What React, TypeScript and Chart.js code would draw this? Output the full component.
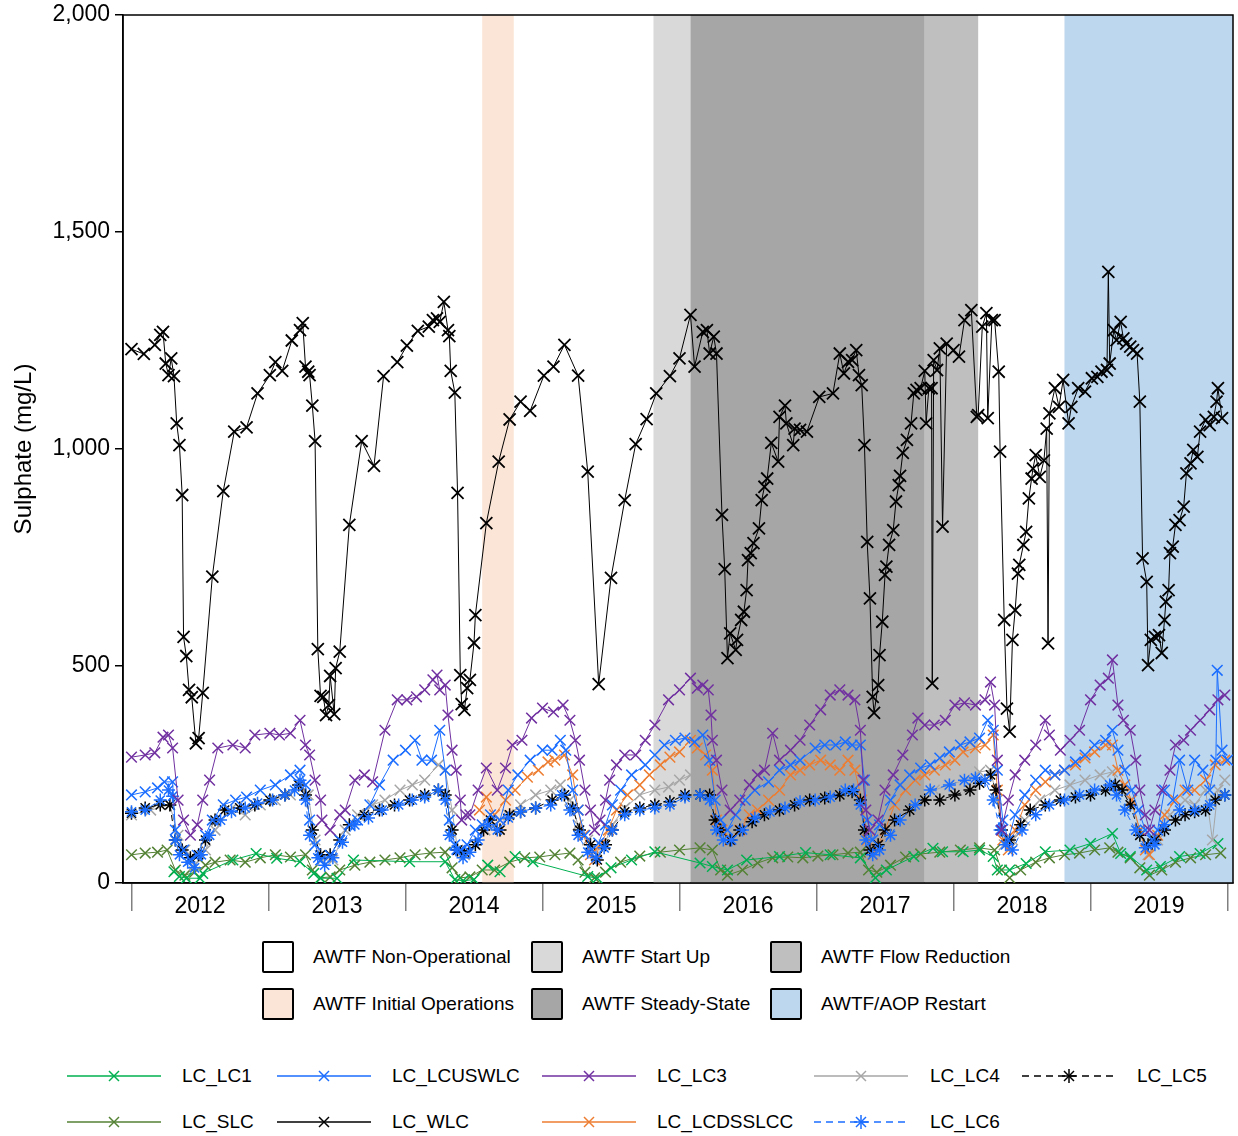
import React, { useEffect, useRef } from "react";
import { Chart, registerables } from "chart.js";

Chart.register(...registerables);

const FONT = '"Liberation Sans", Arial, Helvetica, sans-serif';

// ---------- axis settings ----------
const yTickValues = [0, 500, 1000, 1500, 2000];
const yearLabels = [2012, 2013, 2014, 2015, 2016, 2017, 2018, 2019];
const xMin = 2011.938;
const xMax = 2020.04;

// ---------- operating phases (decimal years) ----------
const phaseNames = ["AWTF Initial Operations", "AWTF Start Up", "AWTF Steady-State", "AWTF Flow Reduction", "AWTF/AOP Restart"];
const phaseStart = [2014.56, 2015.81, 2016.08, 2017.79, 2018.81];
const phaseEnd = [2014.79, 2016.08, 2017.79, 2018.18, 2020.04];
const phaseColors = ["#fbe5d6", "#d9d9d9", "#a6a6a6", "#bfbfbf", "#bdd7ee"];

// ---------- series data: [decimal year, sulphate mg/L] ----------
const wlcData: number[][] = [
  [2012.00, 1230], [2012.09, 1219], [2012.17, 1240], [2012.21, 1263], [2012.23, 1270], [2012.25, 1197], [2012.27, 1170], [2012.29, 1209], [2012.31, 1168], [2012.33, 1059], [2012.35, 1009], [2012.37, 894], [2012.38, 567], [2012.40, 523], [2012.42, 445], [2012.44, 428], [2012.47, 322], [2012.49, 334], [2012.52, 438], [2012.59, 706], [2012.67, 903], [2012.75, 1040], [2012.84, 1050], [2012.92, 1128],
  [2013.01, 1170], [2013.05, 1200], [2013.10, 1180], [2013.17, 1250], [2013.23, 1274], [2013.25, 1290], [2013.27, 1190], [2013.29, 1178], [2013.30, 1170], [2013.32, 1100], [2013.34, 1018], [2013.36, 539], [2013.38, 431], [2013.40, 429], [2013.42, 387], [2013.44, 410], [2013.45, 477], [2013.48, 389], [2013.49, 495], [2013.52, 533], [2013.59, 825], [2013.68, 1018], [2013.77, 961], [2013.84, 1168], [2013.94, 1200],
  [2014.01, 1238], [2014.09, 1272], [2014.17, 1282], [2014.20, 1297], [2014.23, 1301], [2014.25, 1293], [2014.28, 1339], [2014.31, 1274], [2014.32, 1260], [2014.33, 1180], [2014.36, 1130], [2014.38, 899], [2014.40, 479], [2014.41, 412], [2014.43, 399], [2014.45, 449], [2014.47, 468], [2014.50, 553], [2014.51, 617], [2014.59, 829], [2014.68, 971], [2014.76, 1068], [2014.84, 1109], [2014.91, 1088],
  [2015.01, 1169], [2015.08, 1190], [2015.16, 1240], [2015.26, 1169], [2015.33, 948], [2015.41, 458], [2015.50, 703], [2015.60, 882], [2015.68, 1011], [2015.76, 1069], [2015.83, 1128], [2015.93, 1168],
  [2016.00, 1209], [2016.08, 1309], [2016.11, 1190], [2016.17, 1270], [2016.20, 1274], [2016.22, 1220], [2016.25, 1259], [2016.27, 1220], [2016.31, 848], [2016.33, 723], [2016.35, 518], [2016.37, 575], [2016.41, 537], [2016.42, 560], [2016.45, 606], [2016.47, 625], [2016.49, 675], [2016.50, 744], [2016.52, 760], [2016.54, 783], [2016.58, 817], [2016.60, 882], [2016.62, 913], [2016.64, 932], [2016.67, 1014], [2016.72, 971], [2016.73, 1074], [2016.77, 1100], [2016.78, 1059], [2016.83, 1009], [2016.84, 1047], [2016.88, 1044], [2016.93, 1040],
  [2017.02, 1120], [2017.12, 1128], [2017.17, 1220], [2017.20, 1174], [2017.23, 1201], [2017.26, 1205], [2017.29, 1228], [2017.31, 1170], [2017.33, 1147], [2017.35, 1009], [2017.37, 786], [2017.39, 656], [2017.41, 429], [2017.42, 392], [2017.45, 456], [2017.46, 525], [2017.48, 602], [2017.50, 710], [2017.51, 729], [2017.53, 779], [2017.56, 813], [2017.58, 879], [2017.60, 917], [2017.61, 938], [2017.63, 991], [2017.66, 1021], [2017.69, 1059], [2017.71, 1128], [2017.73, 1136], [2017.76, 1140], [2017.79, 1180], [2017.80, 1059], [2017.82, 1140], [2017.84, 1140], [2017.845, 460], [2017.855, 1205], [2017.88, 1182], [2017.90, 1232], [2017.92, 821], [2017.95, 1243],
  [2018.00, 1228], [2018.04, 1213], [2018.08, 1297], [2018.13, 1320], [2018.17, 1074], [2018.18, 1078], [2018.21, 1282], [2018.24, 1313], [2018.25, 1071], [2018.28, 1297], [2018.30, 1297], [2018.33, 1178], [2018.34, 994], [2018.37, 606], [2018.39, 402], [2018.41, 349], [2018.43, 560], [2018.45, 629], [2018.47, 713], [2018.48, 733], [2018.51, 779], [2018.53, 809], [2018.55, 886], [2018.57, 932], [2018.58, 955], [2018.60, 986], [2018.63, 936], [2018.66, 974], [2018.68, 1047], [2018.69, 552], [2018.70, 1082], [2018.74, 1140], [2018.77, 1097], [2018.80, 1159], [2018.84, 1059], [2018.86, 1097], [2018.91, 1140], [2018.96, 1132],
  [2019.01, 1163], [2019.05, 1166], [2019.08, 1178], [2019.12, 1182], [2019.13, 1408], [2019.14, 1197], [2019.17, 1274], [2019.19, 1251], [2019.22, 1293], [2019.24, 1255], [2019.26, 1243], [2019.29, 1236], [2019.31, 1228], [2019.34, 1220], [2019.36, 1109], [2019.38, 748], [2019.41, 694], [2019.42, 502], [2019.44, 560], [2019.47, 567], [2019.50, 571], [2019.52, 530], [2019.54, 606], [2019.55, 648], [2019.57, 675], [2019.58, 760], [2019.60, 775], [2019.62, 825], [2019.65, 836], [2019.68, 867], [2019.70, 944], [2019.73, 967], [2019.75, 998], [2019.78, 982], [2019.80, 1040], [2019.84, 1067], [2019.87, 1055], [2019.90, 1074], [2019.92, 1109], [2019.93, 1140], [2019.96, 1071],
];

const lc3Data: number[][] = [
  [2012.00, 290], [2012.10, 295], [2012.17, 300], [2012.23, 336], [2012.27, 341], [2012.30, 311], [2012.34, 191], [2012.38, 145], [2012.43, 110], [2012.48, 134], [2012.52, 191], [2012.57, 237], [2012.63, 311], [2012.74, 318], [2012.83, 311], [2012.90, 341],
  [2013.01, 345], [2013.08, 341], [2013.16, 345], [2013.23, 375], [2013.27, 318], [2013.30, 295], [2013.34, 237], [2013.38, 191], [2013.39, 145], [2013.45, 122], [2013.52, 157], [2013.56, 168], [2013.63, 237], [2013.70, 249], [2013.76, 233], [2013.85, 352], [2013.94, 422],
  [2014.01, 422], [2014.08, 429], [2014.14, 445], [2014.20, 468], [2014.23, 479], [2014.25, 445], [2014.29, 456], [2014.31, 387], [2014.34, 306], [2014.37, 260], [2014.40, 191], [2014.41, 145], [2014.44, 157], [2014.47, 157], [2014.53, 214], [2014.59, 265], [2014.67, 214], [2014.73, 265], [2014.78, 318], [2014.85, 329], [2014.92, 380],
  [2015.00, 403], [2015.08, 394], [2015.15, 410], [2015.20, 375], [2015.24, 329], [2015.27, 283], [2015.31, 214], [2015.35, 168], [2015.38, 122], [2015.42, 145], [2015.46, 191], [2015.49, 237], [2015.54, 272], [2015.60, 295], [2015.68, 295], [2015.75, 329], [2015.82, 364], [2015.92, 422],
  [2016.00, 445], [2016.08, 472], [2016.13, 449], [2016.17, 456], [2016.21, 445], [2016.23, 387], [2016.24, 329], [2016.27, 283], [2016.31, 214], [2016.37, 168], [2016.44, 191], [2016.51, 226], [2016.57, 249], [2016.62, 260], [2016.68, 345], [2016.73, 283], [2016.81, 306], [2016.88, 329], [2016.95, 364],
  [2017.03, 399], [2017.10, 433], [2017.17, 445], [2017.23, 433], [2017.28, 422], [2017.32, 352], [2017.34, 237], [2017.36, 168], [2017.39, 122], [2017.45, 145], [2017.50, 214], [2017.56, 249], [2017.63, 295], [2017.70, 341], [2017.74, 380], [2017.79, 364], [2017.86, 364], [2017.94, 375],
  [2018.01, 410], [2018.08, 415], [2018.16, 410], [2018.23, 422], [2018.27, 463], [2018.30, 410], [2018.32, 283], [2018.35, 122], [2018.40, 191], [2018.45, 249], [2018.52, 283], [2018.60, 318], [2018.67, 375], [2018.70, 341], [2018.78, 306], [2018.85, 329], [2018.92, 352],
  [2019.00, 422], [2019.07, 456], [2019.13, 472], [2019.16, 514], [2019.20, 410], [2019.24, 375], [2019.29, 352], [2019.33, 283], [2019.36, 214], [2019.40, 157], [2019.43, 122], [2019.47, 168], [2019.52, 214], [2019.58, 260], [2019.62, 318], [2019.68, 329], [2019.73, 352], [2019.80, 375], [2019.87, 399], [2019.93, 422], [2019.98, 433],
];

const lcuswlcData: number[][] = [
  [2012.00, 203], [2012.10, 210], [2012.19, 219], [2012.24, 233], [2012.30, 233], [2012.32, 122], [2012.38, 76], [2012.43, 53], [2012.48, 64], [2012.54, 110], [2012.59, 145], [2012.67, 180], [2012.76, 191], [2012.84, 198], [2012.94, 214],
  [2013.05, 226], [2013.16, 249], [2013.23, 260], [2013.27, 226], [2013.30, 145], [2013.34, 88], [2013.38, 53], [2013.45, 64], [2013.52, 99], [2013.59, 134], [2013.65, 145], [2013.74, 180], [2013.81, 226], [2013.91, 283],
  [2014.00, 306], [2014.07, 329], [2014.12, 283], [2014.19, 283], [2014.25, 352], [2014.29, 260], [2014.32, 145], [2014.36, 88], [2014.40, 76], [2014.45, 88], [2014.51, 122], [2014.56, 134], [2014.62, 157], [2014.69, 145], [2014.75, 214], [2014.82, 249], [2014.91, 283],
  [2015.00, 306], [2015.07, 306], [2015.13, 329], [2015.17, 306], [2015.22, 214], [2015.26, 168], [2015.31, 110], [2015.36, 76], [2015.41, 92], [2015.46, 134], [2015.51, 180], [2015.57, 214], [2015.65, 249], [2015.75, 272], [2015.82, 295], [2015.89, 318], [2015.97, 329],
  [2016.04, 334], [2016.11, 325], [2016.17, 341], [2016.22, 283], [2016.26, 191], [2016.30, 145], [2016.35, 122], [2016.41, 157], [2016.48, 191], [2016.55, 214], [2016.65, 233], [2016.73, 260], [2016.81, 272], [2016.88, 283], [2016.99, 311],
  [2017.06, 318], [2017.14, 318], [2017.21, 325], [2017.26, 318], [2017.32, 318], [2017.35, 237], [2017.37, 145], [2017.41, 99], [2017.46, 134], [2017.54, 191], [2017.61, 226], [2017.68, 249], [2017.76, 265], [2017.83, 272], [2017.90, 288], [2017.97, 302],
  [2018.05, 318], [2018.12, 325], [2018.19, 334], [2018.25, 375], [2018.29, 352], [2018.32, 260], [2018.36, 145], [2018.40, 99], [2018.45, 157], [2018.52, 203], [2018.60, 237], [2018.67, 260], [2018.74, 249], [2018.81, 260], [2018.89, 279], [2018.96, 295],
  [2019.03, 318], [2019.11, 329], [2019.16, 352], [2019.20, 306], [2019.25, 260], [2019.30, 214], [2019.35, 168], [2019.40, 122], [2019.45, 99], [2019.49, 122], [2019.54, 214], [2019.60, 191], [2019.65, 283], [2019.71, 214], [2019.76, 283], [2019.82, 260], [2019.87, 214], [2019.915, 283], [2019.925, 490], [2019.96, 306], [2020.00, 283],
];

const lcdsslccData: number[][] = [
  [2014.54, 168], [2014.59, 198], [2014.65, 157], [2014.73, 191], [2014.80, 214], [2014.89, 244], [2014.97, 260],
  [2015.04, 279], [2015.09, 283], [2015.16, 295], [2015.22, 249], [2015.26, 168], [2015.30, 110], [2015.35, 65], [2015.38, 53], [2015.42, 88], [2015.48, 122], [2015.54, 168], [2015.62, 203], [2015.71, 226], [2015.78, 249], [2015.86, 272], [2015.93, 290],
  [2016.00, 302], [2016.08, 329], [2016.13, 311], [2016.19, 295], [2016.24, 260], [2016.27, 145], [2016.31, 122], [2016.37, 99], [2016.44, 122], [2016.51, 157], [2016.57, 168], [2016.65, 191], [2016.73, 214], [2016.81, 249], [2016.88, 260], [2016.95, 272],
  [2017.03, 283], [2017.10, 272], [2017.17, 260], [2017.23, 283], [2017.28, 260], [2017.33, 191], [2017.37, 99], [2017.41, 65], [2017.45, 88], [2017.50, 122], [2017.57, 180], [2017.65, 214], [2017.72, 237], [2017.79, 249], [2017.86, 260], [2017.94, 272],
  [2018.01, 283], [2018.07, 302], [2018.16, 311], [2018.23, 318], [2018.29, 341], [2018.32, 214], [2018.36, 99], [2018.40, 76], [2018.45, 122], [2018.52, 180], [2018.60, 214], [2018.67, 233], [2018.74, 249], [2018.81, 260], [2018.89, 272], [2018.96, 288],
  [2019.03, 302], [2019.11, 318], [2019.16, 318], [2019.20, 260], [2019.25, 226], [2019.30, 191], [2019.36, 122], [2019.40, 76], [2019.43, 65], [2019.49, 110], [2019.54, 157], [2019.62, 191], [2019.69, 214], [2019.76, 214], [2019.84, 237], [2019.91, 272], [2019.98, 283],
];

const lc4Data: number[][] = [
  [2012.00, 157], [2012.14, 168], [2012.28, 180], [2012.34, 110], [2012.39, 76], [2012.46, 41], [2012.54, 76], [2012.61, 122], [2012.72, 168], [2012.83, 157], [2012.94, 180],
  [2013.05, 191], [2013.16, 203], [2013.23, 226], [2013.29, 203], [2013.34, 99], [2013.39, 53], [2013.47, 53], [2013.56, 122], [2013.65, 157], [2013.76, 180], [2013.85, 191], [2013.96, 214],
  [2014.05, 226], [2014.14, 237], [2014.24, 272], [2014.29, 260], [2014.34, 168], [2014.38, 76], [2014.43, 65], [2014.51, 88], [2014.58, 122], [2014.65, 134], [2014.75, 157], [2014.84, 180], [2014.95, 203],
  [2015.06, 214], [2015.13, 226], [2015.20, 191], [2015.26, 134], [2015.33, 99], [2015.39, 76], [2015.45, 88], [2015.51, 134], [2015.60, 173], [2015.71, 203], [2015.82, 214], [2015.92, 221],
  [2016.00, 237], [2016.08, 249], [2016.15, 237], [2016.21, 214], [2016.25, 122], [2016.31, 88], [2016.41, 110], [2016.51, 145], [2016.62, 173], [2016.73, 191], [2016.84, 203], [2016.95, 214],
  [2017.10, 219], [2017.25, 226], [2017.32, 214], [2017.35, 122], [2017.39, 65], [2017.46, 88], [2017.55, 134], [2017.65, 168], [2017.74, 191], [2017.86, 214], [2017.97, 226],
  [2018.08, 237], [2018.19, 256], [2018.27, 260], [2018.32, 191], [2018.37, 88], [2018.43, 99], [2018.52, 145], [2018.63, 191], [2018.74, 214], [2018.85, 226], [2018.96, 237],
  [2019.07, 249], [2019.16, 256], [2019.22, 214], [2019.29, 191], [2019.36, 122], [2019.42, 65], [2019.49, 99], [2019.58, 157], [2019.69, 191], [2019.76, 180], [2019.84, 214], [2019.89, 99], [2019.93, 214], [2019.98, 237],
];

const lc5Data: number[][] = [
  [2012.00, 161], [2012.10, 173], [2012.21, 180], [2012.28, 180], [2012.32, 99], [2012.37, 76], [2012.43, 58], [2012.49, 65], [2012.54, 99], [2012.61, 145], [2012.68, 168], [2012.79, 173], [2012.90, 180],
  [2013.01, 191], [2013.12, 203], [2013.22, 226], [2013.27, 203], [2013.32, 122], [2013.38, 65], [2013.45, 65], [2013.52, 99], [2013.59, 134], [2013.70, 157], [2013.81, 168], [2013.92, 180],
  [2014.03, 191], [2014.14, 203], [2014.24, 214], [2014.29, 203], [2014.34, 122], [2014.38, 76], [2014.43, 71], [2014.51, 88], [2014.57, 122], [2014.62, 145], [2014.69, 122], [2014.76, 157], [2014.84, 164], [2014.95, 173],
  [2015.07, 191], [2015.16, 203], [2015.22, 173], [2015.27, 122], [2015.35, 88], [2015.40, 53], [2015.46, 88], [2015.51, 122], [2015.60, 164], [2015.71, 173], [2015.82, 180], [2015.93, 187],
  [2016.04, 203], [2016.15, 203], [2016.22, 203], [2016.26, 145], [2016.30, 122], [2016.37, 99], [2016.44, 122], [2016.53, 141], [2016.62, 157], [2016.73, 168], [2016.84, 180], [2016.95, 191],
  [2017.06, 196], [2017.17, 203], [2017.26, 210], [2017.32, 191], [2017.35, 122], [2017.39, 76], [2017.45, 88], [2017.50, 122], [2017.57, 145], [2017.68, 168], [2017.79, 191], [2017.90, 191],
  [2018.01, 203], [2018.12, 214], [2018.19, 230], [2018.27, 249], [2018.31, 214], [2018.35, 122], [2018.41, 99], [2018.49, 134], [2018.56, 168], [2018.67, 180], [2018.78, 191], [2018.89, 198],
  [2019.00, 203], [2019.11, 214], [2019.18, 226], [2019.23, 214], [2019.29, 180], [2019.36, 110], [2019.42, 88], [2019.47, 99], [2019.54, 122], [2019.62, 145], [2019.69, 157], [2019.76, 164], [2019.84, 168], [2019.91, 191], [2019.98, 203],
];

const lc6Data: number[][] = [
  [2012.00, 164], [2012.10, 168], [2012.21, 191], [2012.27, 214], [2012.30, 200], [2012.32, 99], [2012.35, 65], [2012.41, 48], [2012.46, 35], [2012.51, 65], [2012.57, 110], [2012.65, 145], [2012.73, 164], [2012.83, 173], [2012.92, 184],
  [2013.03, 191], [2013.12, 203], [2013.19, 214], [2013.23, 237], [2013.27, 191], [2013.30, 110], [2013.36, 58], [2013.41, 41], [2013.47, 58], [2013.54, 94], [2013.63, 134], [2013.73, 150], [2013.83, 168], [2013.95, 180],
  [2014.05, 191], [2014.14, 198], [2014.24, 214], [2014.29, 191], [2014.32, 110], [2014.37, 76], [2014.42, 58], [2014.47, 71], [2014.53, 99], [2014.60, 134], [2014.67, 122], [2014.75, 150], [2014.84, 164], [2014.95, 173],
  [2015.06, 180], [2015.14, 203], [2015.20, 168], [2015.26, 110], [2015.33, 71], [2015.39, 58], [2015.45, 81], [2015.51, 122], [2015.60, 157], [2015.71, 168], [2015.82, 173], [2015.93, 180],
  [2016.04, 198], [2016.15, 203], [2016.22, 191], [2016.27, 122], [2016.32, 99], [2016.38, 99], [2016.46, 122], [2016.55, 150], [2016.66, 164], [2016.77, 173], [2016.88, 187], [2016.99, 191],
  [2017.10, 198], [2017.21, 214], [2017.27, 214], [2017.32, 180], [2017.36, 99], [2017.41, 65], [2017.46, 76], [2017.54, 110], [2017.61, 145], [2017.72, 180], [2017.83, 214], [2017.97, 226],
  [2018.08, 237], [2018.16, 242], [2018.23, 237], [2018.29, 191], [2018.34, 122], [2018.38, 88], [2018.43, 76], [2018.50, 122], [2018.60, 157], [2018.70, 180], [2018.81, 191], [2018.92, 203],
  [2019.03, 214], [2019.14, 226], [2019.19, 203], [2019.25, 168], [2019.33, 122], [2019.40, 81], [2019.47, 88], [2019.54, 134], [2019.65, 168], [2019.76, 168], [2019.87, 180], [2019.98, 203],
];

const slcData: number[][] = [
  [2012.00, 65], [2012.10, 69], [2012.19, 71], [2012.26, 76], [2012.32, 30], [2012.39, 18], [2012.46, 25], [2012.54, 41], [2012.61, 48], [2012.72, 53], [2012.83, 48], [2012.94, 58],
  [2013.05, 65], [2013.16, 60], [2013.27, 65], [2013.32, 30], [2013.38, 12], [2013.45, 14], [2013.52, 30], [2013.63, 41], [2013.74, 48], [2013.85, 53], [2013.96, 58],
  [2014.07, 65], [2014.18, 69], [2014.29, 71], [2014.34, 35], [2014.40, 12], [2014.47, 14], [2014.56, 30], [2014.65, 30], [2014.76, 48], [2014.87, 58], [2014.98, 60],
  [2015.09, 65], [2015.20, 69], [2015.26, 53], [2015.31, 25], [2015.38, 12], [2015.46, 25], [2015.57, 48], [2015.71, 62], [2015.86, 71],
  [2016.00, 76], [2016.15, 81], [2016.24, 76], [2016.30, 30], [2016.35, 18], [2016.46, 30], [2016.57, 46], [2016.68, 58], [2016.79, 60], [2016.90, 58],
  [2017.01, 62], [2017.12, 65], [2017.23, 69], [2017.32, 71], [2017.38, 30], [2017.44, 25], [2017.54, 41], [2017.65, 60], [2017.76, 67], [2017.90, 71],
  [2018.05, 76], [2018.19, 81], [2018.30, 76], [2018.35, 30], [2018.41, 12], [2018.49, 30], [2018.60, 48], [2018.70, 58], [2018.81, 65], [2018.92, 69],
  [2019.03, 76], [2019.14, 81], [2019.20, 71], [2019.29, 58], [2019.36, 35], [2019.43, 18], [2019.52, 30], [2019.62, 48], [2019.73, 58], [2019.84, 65], [2019.95, 69],
];

const lc1Data: number[][] = [
  [2012.31, 26], [2012.35, 15], [2012.40, 11], [2012.50, 11], [2012.52, 22], [2012.74, 53], [2012.91, 68],
  [2013.06, 57], [2013.23, 49], [2013.33, 22], [2013.38, 11], [2013.50, 11], [2013.62, 53],
  [2014.03, 49], [2014.29, 49], [2014.36, 8], [2014.42, 5], [2014.50, 8], [2014.60, 41], [2014.69, 26], [2014.80, 61], [2014.93, 49],
  [2015.33, 15], [2015.40, 11], [2015.50, 35], [2015.65, 53], [2015.82, 72],
  [2016.15, 46], [2016.24, 38], [2016.35, 30], [2016.49, 53], [2016.73, 61], [2016.92, 70],
  [2017.10, 65], [2017.32, 58], [2017.43, 12], [2017.51, 30], [2017.71, 61], [2017.85, 80], [2017.92, 72],
  [2018.07, 72], [2018.19, 76], [2018.29, 61], [2018.32, 30], [2018.41, 30], [2018.53, 45], [2018.67, 72], [2018.85, 76],
  [2019.00, 91], [2019.16, 114], [2019.22, 68], [2019.29, 61], [2019.41, 30], [2019.51, 38], [2019.65, 61], [2019.80, 68], [2019.93, 91],
];

// ---------- series styling ----------
const COLORS = {
  LC1: "#00b050",
  USWLC: "#1a6dff",
  LC3: "#7030a0",
  LC4: "#a6a6a6",
  LC5: "#000000",
  SLC: "#548235",
  WLC: "#000000",
  DSSLCC: "#ed7d31",
  LC6: "#1a6dff",
};

type Spec = { label: string; data: number[][]; color: string; marker: "crossRot" | "star"; dashed: boolean; r: number; pw: number };

const seriesSpecs: Spec[] = [
  { label: "LC_WLC", data: wlcData, color: COLORS.WLC, marker: "crossRot", dashed: false, r: 8.5, pw: 1.8 },
  { label: "LC_LC3", data: lc3Data, color: COLORS.LC3, marker: "crossRot", dashed: false, r: 7.5, pw: 1.5 },
  { label: "LC_LCUSWLC", data: lcuswlcData, color: COLORS.USWLC, marker: "crossRot", dashed: false, r: 7.5, pw: 1.5 },
  { label: "LC_LC6", data: lc6Data, color: COLORS.LC6, marker: "star", dashed: true, r: 6.5, pw: 1.5 },
  { label: "LC_LC5", data: lc5Data, color: COLORS.LC5, marker: "star", dashed: true, r: 6.5, pw: 1.5 },
  { label: "LC_LCDSSLCC", data: lcdsslccData, color: COLORS.DSSLCC, marker: "crossRot", dashed: false, r: 7.5, pw: 1.5 },
  { label: "LC_LC4", data: lc4Data, color: COLORS.LC4, marker: "crossRot", dashed: false, r: 7.5, pw: 1.5 },
  { label: "LC_LC1", data: lc1Data, color: COLORS.LC1, marker: "crossRot", dashed: false, r: 7.5, pw: 1.5 },
  { label: "LC_SLC", data: slcData, color: COLORS.SLC, marker: "crossRot", dashed: false, r: 7.5, pw: 1.5 },
];

// ---------- legends ----------
const phaseLegend = [
  { label: "AWTF Non-Operational", color: "#ffffff", left: 262, top: 941 },
  { label: "AWTF Start Up", color: "#d9d9d9", left: 531, top: 941 },
  { label: "AWTF Flow Reduction", color: "#bfbfbf", left: 770, top: 941 },
  { label: "AWTF Initial Operations", color: "#fbe5d6", left: 262, top: 988 },
  { label: "AWTF Steady-State", color: "#a6a6a6", left: 531, top: 988 },
  { label: "AWTF/AOP Restart", color: "#bdd7ee", left: 770, top: 988 },
];

const seriesLegend = [
  { label: "LC_LC1", color: COLORS.LC1, star: false, dashed: false, left: 67, textLeft: 182, cy: 1076 },
  { label: "LC_LCUSWLC", color: COLORS.USWLC, star: false, dashed: false, left: 277, textLeft: 392, cy: 1076 },
  { label: "LC_LC3", color: COLORS.LC3, star: false, dashed: false, left: 542, textLeft: 657, cy: 1076 },
  { label: "LC_LC4", color: COLORS.LC4, star: false, dashed: false, left: 814, textLeft: 930, cy: 1076 },
  { label: "LC_LC5", color: COLORS.LC5, star: true, dashed: true, left: 1022, textLeft: 1137, cy: 1076 },
  { label: "LC_SLC", color: COLORS.SLC, star: false, dashed: false, left: 67, textLeft: 182, cy: 1122 },
  { label: "LC_WLC", color: COLORS.WLC, star: false, dashed: false, left: 277, textLeft: 392, cy: 1122 },
  { label: "LC_LCDSSLCC", color: COLORS.DSSLCC, star: false, dashed: false, left: 542, textLeft: 657, cy: 1122 },
  { label: "LC_LC6", color: COLORS.LC6, star: true, dashed: true, left: 814, textLeft: 930, cy: 1122 },
];

const bandsPlugin = {
  id: "phaseBands",
  beforeDatasetsDraw(chart: any) {
    const { ctx, chartArea, scales } = chart;
    const xs = scales.x;
    ctx.save();
    for (let i = 0; i < phaseStart.length; i++) {
      const x0 = Math.max(chartArea.left, xs.getPixelForValue(phaseStart[i]));
      const x1 = Math.min(chartArea.right, xs.getPixelForValue(phaseEnd[i]));
      ctx.fillStyle = phaseColors[i];
      ctx.fillRect(x0, chartArea.top, x1 - x0, chartArea.bottom - chartArea.top);
    }
    ctx.strokeStyle = "#000";
    ctx.lineWidth = 1.5;
    ctx.strokeRect(chartArea.left, chartArea.top, chartArea.right - chartArea.left, chartArea.bottom - chartArea.top);
    ctx.restore();
  },
};

function LegendLine({ color, star, dashed }: { color: string; star: boolean; dashed: boolean }) {
  const c = 47;
  const m = 10;
  return (
    <svg width={94} height={20} style={{ display: "block" }}>
      <line x1={0} y1={m} x2={94} y2={m} stroke={color} strokeWidth={1.3} strokeDasharray={dashed ? "7 5" : undefined} />
      <line x1={c - 5} y1={m - 5} x2={c + 5} y2={m + 5} stroke={color} strokeWidth={1.5} />
      <line x1={c - 5} y1={m + 5} x2={c + 5} y2={m - 5} stroke={color} strokeWidth={1.5} />
      {star && <line x1={c} y1={m - 7} x2={c} y2={m + 7} stroke={color} strokeWidth={1.5} />}
      {star && <line x1={c - 7} y1={m} x2={c + 7} y2={m} stroke={color} strokeWidth={1.5} />}
    </svg>
  );
}

export default function App() {
  const canvasRef = useRef<HTMLCanvasElement | null>(null);

  useEffect(() => {
    if (!canvasRef.current) return;
    const xTickValues: number[] = [];
    yearLabels.forEach((y) => {
      xTickValues.push(y, y + 0.5);
    });
    xTickValues.push(yearLabels[yearLabels.length - 1] + 1);

    const datasets = seriesSpecs.map((s) => ({
      label: s.label,
      data: s.data.map(([x, y]) => ({ x, y })),
      borderColor: s.color,
      backgroundColor: s.color,
      borderWidth: 1,
      borderDash: s.dashed ? [6, 4] : [],
      pointStyle: s.marker,
      pointRadius: s.r,
      pointHoverRadius: s.r,
      pointBorderWidth: s.pw,
      pointBorderColor: s.color,
      pointBackgroundColor: s.color,
      tension: 0,
      fill: false,
    }));

    const chart = new Chart(canvasRef.current, {
      type: "line",
      data: { datasets },
      options: {
        animation: false,
        responsive: false,
        devicePixelRatio: 1,
        layout: { autoPadding: false, padding: { top: 15, right: 5, bottom: 17, left: 0 } },
        plugins: { legend: { display: false }, tooltip: { enabled: false } },
        scales: {
          x: {
            type: "linear",
            min: xMin,
            max: xMax,
            afterBuildTicks: (scale: any) => {
              scale.ticks = xTickValues.map((v) => ({ value: v }));
            },
            afterFit: (scale: any) => {
              scale.height = 40;
              scale.paddingLeft = 0;
              scale.paddingRight = 0;
            },
            border: { display: true, color: "#000", width: 1.5 },
            grid: {
              drawOnChartArea: false,
              drawTicks: true,
              tickLength: 28,
              lineWidth: 1.5,
              color: (ctx: any) => (ctx.tick && Number.isInteger(ctx.tick.value) ? "#808080" : "rgba(0,0,0,0)"),
            },
            ticks: {
              autoSkip: false,
              maxRotation: 0,
              padding: -18,
              color: "#000",
              font: { family: FONT, size: 23 },
              callback: (v: any) => (Number.isInteger(v) ? "" : String(Math.floor(Number(v)))),
            },
          },
          y: {
            type: "linear",
            min: 0,
            max: 2000,
            afterBuildTicks: (scale: any) => {
              scale.ticks = yTickValues.map((v) => ({ value: v }));
            },
            afterFit: (scale: any) => {
              scale.width = 123;
              scale.paddingTop = 0;
              scale.paddingBottom = 0;
            },
            border: { display: true, color: "#000", width: 1.5 },
            grid: { drawOnChartArea: false, drawTicks: true, tickLength: 8, color: "#000", lineWidth: 1.5 },
            ticks: {
              padding: 5,
              color: "#000",
              font: { family: FONT, size: 23 },
              callback: (v: any) => Number(v).toLocaleString("en-US"),
            },
            title: {
              display: true,
              text: "Sulphate (mg/L)",
              color: "#000",
              font: { family: FONT, size: 24 },
              padding: { top: 10, bottom: 4 },
            },
          },
        },
      },
      plugins: [bandsPlugin],
    } as any);
    return () => chart.destroy();
  }, []);

  return (
    <div style={{ position: "absolute", left: 0, top: 0, width: 1238, height: 1136, background: "#fff", fontFamily: FONT, color: "#000" }}>
      <canvas ref={canvasRef} width={1238} height={940} style={{ position: "absolute", left: 0, top: 0, width: 1238, height: 940 }} />
      {phaseLegend.map((p) => (
        <React.Fragment key={p.label}>
          <div
            style={{
              position: "absolute",
              left: p.left,
              top: p.top,
              width: 28,
              height: 28,
              background: p.color,
              border: "2px solid #000",
              borderRadius: 2,
            }}
          />
          <div style={{ position: "absolute", left: p.left + 51, top: p.top + 5, fontSize: 19, lineHeight: "22px", whiteSpace: "nowrap" }}>{p.label}</div>
        </React.Fragment>
      ))}
      {seriesLegend.map((s) => (
        <React.Fragment key={s.label}>
          <div style={{ position: "absolute", left: s.left, top: s.cy - 10 }}>
            <LegendLine color={s.color} star={s.star} dashed={s.dashed} />
          </div>
          <div style={{ position: "absolute", left: s.textLeft, top: s.cy - 11, fontSize: 19, lineHeight: "22px", whiteSpace: "nowrap" }}>{s.label}</div>
        </React.Fragment>
      ))}
    </div>
  );
}
